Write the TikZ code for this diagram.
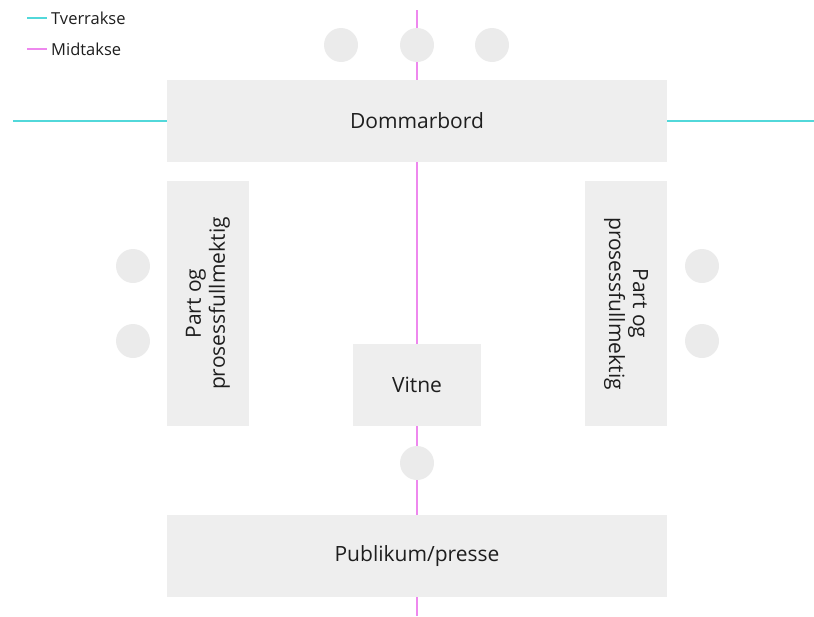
\documentclass[tikz,border=0pt]{standalone}
\usepackage{fontspec}
\setmainfont{Open Sans}
\definecolor{tverr}{HTML}{52D8DA}
\definecolor{midt}{HTML}{EE88EE}
\definecolor{bord}{HTML}{EEEEEE}
\definecolor{stol}{HTML}{EBEBEB}
\definecolor{tekst}{HTML}{1E1E1E}

\begin{document}
\begin{tikzpicture}
  [x=1pt,y=-1pt,every node/.style={inner sep=0pt,text=tekst},
   table/.style={rectangle,fill=bord,font=\fontsize{21}{24}\selectfont,align=center},
   chair/.style={circle,fill=stol,minimum size=34pt}]
  \useasboundingbox (0,0) rectangle (814,616);

  \node[table,minimum width=500pt,minimum height=82pt] (dom) at (417,121) {Dommarbord};
  \node[table,minimum width=245pt,minimum height=82pt,rotate=90] (partl) at (208,303.5) {Part og\\prosessfullmektig};
  \node[table,minimum width=245pt,minimum height=82pt,rotate=-90] (partr) at (626,303.5) {Part og\\prosessfullmektig};
  \node[table,minimum width=128pt,minimum height=82pt] (vitne) at (417,385) {Vitne};
  \node[table,minimum width=500pt,minimum height=82pt] (pub) at (417,556) {Publikum/presse};

  \node[chair] (j1) at (341,45) {};
  \node[chair] (j2) at (417,45) {};
  \node[chair] (j3) at (492,45) {};
  \node[chair] (l1) at (133,266) {};
  \node[chair] (l2) at (133,341) {};
  \node[chair] (r1) at (702,266) {};
  \node[chair] (r2) at (702,341) {};
  \node[chair] (v1) at (417,463) {};

  \coordinate (tl) at (13,121);
  \coordinate (tr) at (814,121);
  \coordinate (mtop) at (417,10);
  \coordinate (mbot) at (417,616);

  \draw[line width=2.6pt,tverr] (tl) -- (dom) -- (tr);
  \draw[line width=2.2pt,midt] (mtop) -- (j2) -- (dom) -- (vitne) -- (v1) -- (pub) -- (mbot);

  % legend
  \coordinate (lt1) at (27,18);
  \coordinate (lt2) at (47,18);
  \coordinate (lm1) at (27,49);
  \coordinate (lm2) at (47,49);
  \draw[line width=2pt,tverr] (lt1) -- (lt2);
  \draw[line width=2pt,midt] (lm1) -- (lm2);
  \node[anchor=west,font=\fontsize{16.5}{19}\selectfont] (ltv) at (51,18) {Tverrakse};
  \node[anchor=west,font=\fontsize{16.5}{19}\selectfont] (lmi) at (51,49) {Midtakse};
\end{tikzpicture}
\end{document}
